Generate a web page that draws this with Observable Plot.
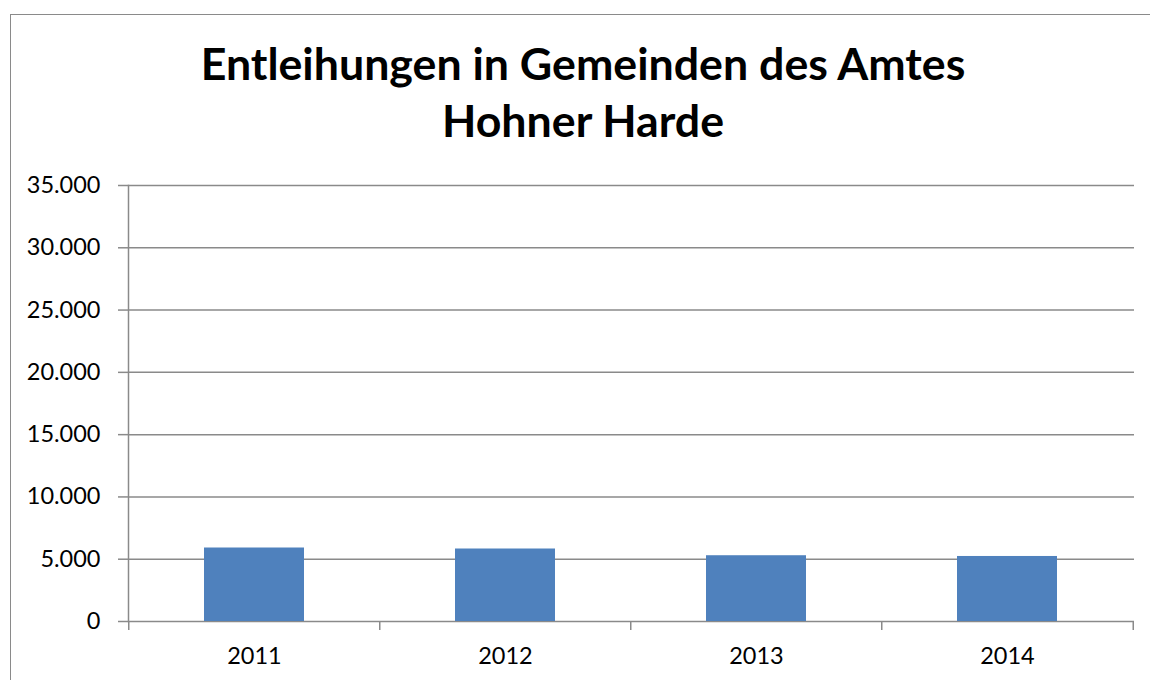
<!DOCTYPE html>
<html>
<head>
<meta charset="utf-8">
<script src="https://cdn.jsdelivr.net/npm/d3@7"></script>
<script src="https://cdn.jsdelivr.net/npm/@observablehq/plot@0.6"></script>
<style>
  html, body { margin: 0; padding: 0; background: #fff; }
  #page { position: relative; width: 1150px; height: 680px; overflow: hidden; background: #fff; }
  #frame { position: absolute; left: 10px; top: 14px; width: 1300px; height: 800px; border: 1.5px solid #8a8a8a; box-sizing: border-box; }
  #title { position: absolute; left: 0; top: 35px; width: 1166px; text-align: center;
           font-family: Lato, "Open Sans", sans-serif; font-weight: 700; font-size: 44.7px; line-height: 57px; color: #000; }
  #chart { position: absolute; left: 0; top: 160px; }
</style>
</head>
<body>
<div id="page">
  <div id="frame"></div>
  <div id="title">Entleihungen in Gemeinden des Amtes<br>Hohner Harde</div>
  <div id="chart"></div>
</div>
<script>
const years = ["2011", "2012", "2013", "2014"];
const loans = [5900, 5820, 5280, 5220];
const yTicks = [0, 5000, 10000, 15000, 20000, 25000, 30000, 35000];

const data = years.map((y, i) => ({year: y, value: loans[i]}));

const W = 1150, H = 520;
const mL = 128, mR = 16, mT = 25, mB = 59;
const step = (W - mL - mR) / years.length;
const fmt = d => d3.format(",")(d).replace(/,/g, ".");
const grey = "#8a8a8a";

const chart = Plot.plot({
  width: W,
  height: H,
  marginLeft: mL,
  marginRight: mR,
  marginTop: mT,
  marginBottom: mB,
  style: {fontFamily: "Lato, 'Open Sans', sans-serif", fontSize: "23.5px", color: "#000", background: "transparent"},
  x: {type: "band", domain: years, paddingInner: 0.6, paddingOuter: 0.3, label: null},
  y: {domain: [0, 35000], label: null},
  marks: [
    Plot.gridY(yTicks, {stroke: grey, strokeOpacity: 1, strokeWidth: 1.5}),
    Plot.barY(data, {x: "year", y: "value", fill: "#4F81BD"}),
    Plot.frame({anchor: "left", stroke: grey, strokeWidth: 1.5}),
    Plot.axisY(yTicks, {tickSize: 10, tickPadding: 18, tickFormat: fmt, stroke: grey, strokeWidth: 1.5, fill: "#000", label: null}),
    Plot.axisX(years, {tickSize: 9, dx: -step / 2, text: null, stroke: grey, strokeWidth: 1.5, label: null}),
    Plot.axisX([years[years.length - 1]], {tickSize: 9, dx: step / 2, text: null, stroke: grey, strokeWidth: 1.5, label: null}),
    Plot.axisX(years, {tickSize: 0, tickPadding: 26, fill: "#000", label: null})
  ]
});
document.getElementById("chart").appendChild(chart);
</script>
</body>
</html>
